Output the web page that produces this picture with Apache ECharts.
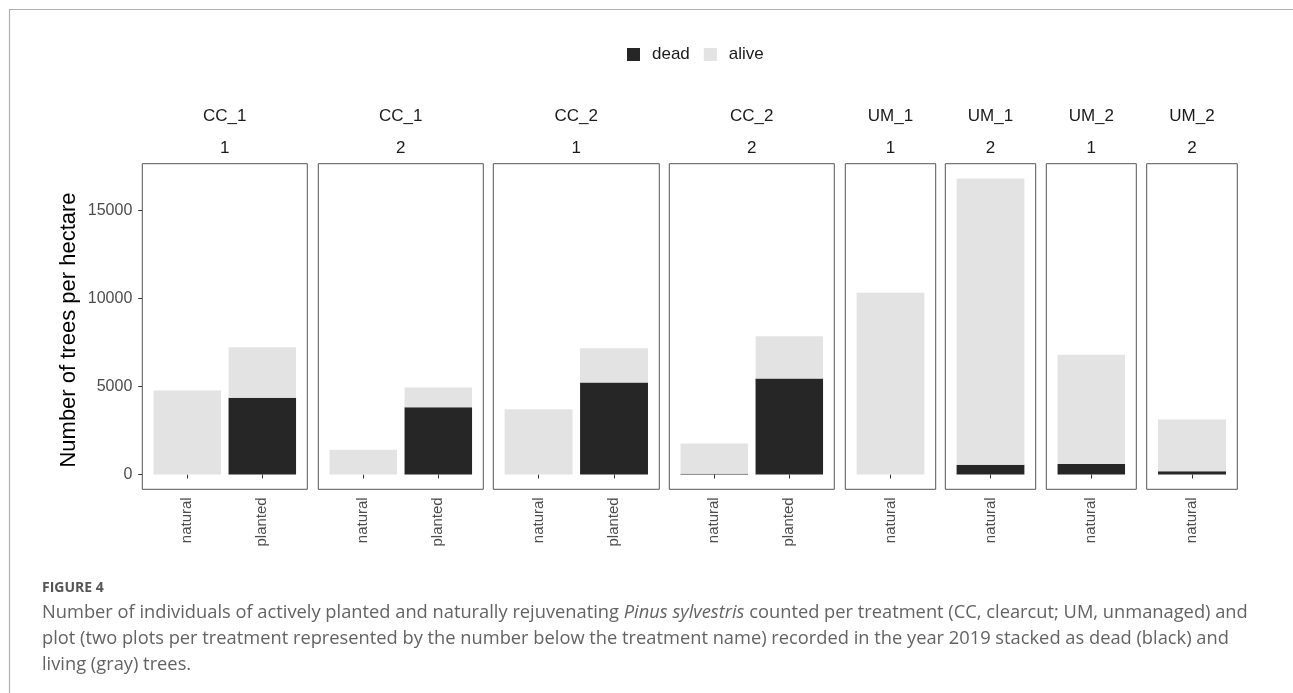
<!DOCTYPE html>
<html>
<head>
<meta charset="utf-8">
<script src="https://cdn.jsdelivr.net/npm/echarts@6/dist/echarts.min.js"></script>
<style>
  html, body { margin: 0; padding: 0; background: #ffffff; }
  #chart { width: 1293px; height: 693px; }
</style>
</head>
<body>
<div id="chart"></div>
<script>
// ---- data ----
const panelTreatments = ['CC_1', 'CC_1', 'CC_2', 'CC_2', 'UM_1', 'UM_1', 'UM_2', 'UM_2'];
const panelPlots = ['1', '2', '1', '2', '1', '2', '1', '2'];
const panelCategories = [
  ['natural', 'planted'],
  ['natural', 'planted'],
  ['natural', 'planted'],
  ['natural', 'planted'],
  ['natural'],
  ['natural'],
  ['natural'],
  ['natural']
];
const deadValues = [[0, 4350], [0, 3820], [0, 5220], [40, 5450], [0], [550], [600], [190]];
const aliveValues = [[4770, 2870], [1400, 1120], [3710, 1950], [1720, 2400], [10310], [16250], [6190], [2930]];
const yTickValues = [0, 5000, 10000, 15000];
const seriesNames = ['dead', 'alive'];
const yTitle = 'Number of trees per hectare';
const figureLabel = 'FIGURE 4';
const captionLines = [
  'Number of individuals of actively planted and naturally rejuvenating {i|Pinus sylvestris} counted per treatment (CC, clearcut; UM, unmanaged) and',
  'plot (two plots per treatment represented by the number below the treatment name) recorded in the year 2019 stacked as dead (black) and',
  'living (gray) trees.'
];

// ---- layout / style ----
const Y_MIN = -840, Y_MAX = 17640;
const PANEL_TOP = 163.7, PANEL_HEIGHT = 325.6;
const panelLefts = [142.3, 318.3, 493.3, 669.3, 845.3, 945.3, 1046.3, 1146.7];
const panelWidths = [165, 165, 166, 165, 90.4, 90.4, 90, 90.6];
const DEAD_COLOR = '#262626', ALIVE_COLOR = '#e3e3e3';
const FONT = '"Liberation Sans", Arial, sans-serif';
const CAP_FONT = '"Open Sans", "Noto Sans", sans-serif';
const CAP_SIZE = 18.3;

const grids = [], xAxes = [], yAxes = [], series = [], graphics = [];

graphics.push({
  type: 'rect', silent: true, z: 0,
  shape: { x: 9.5, y: 9.5, width: 1400, height: 800 },
  style: { fill: 'none', stroke: '#b0b0b0', lineWidth: 1.2 }
});

panelCategories.forEach((cats, i) => {
  const n = cats.length;
  const unit = panelWidths[i] / (n + 0.2);   // ggplot discrete expansion 0.6 each side
  const inset = 0.1 * unit;
  grids.push({
    left: panelLefts[i] + inset, top: PANEL_TOP, width: n * unit, height: PANEL_HEIGHT,
    show: false
  });
  graphics.push({
    type: 'rect', silent: true, z: 100,
    shape: { x: panelLefts[i], y: PANEL_TOP, width: panelWidths[i], height: PANEL_HEIGHT },
    style: { fill: 'none', stroke: '#555555', lineWidth: 1 }
  });
  xAxes.push({
    gridIndex: i, type: 'category', data: cats, boundaryGap: true,
    axisLine: { show: false }, splitLine: { show: false },
    axisTick: { show: true, alignWithLabel: true, length: 4, lineStyle: { color: '#333333' } },
    axisLabel: { rotate: 90, margin: 8, fontSize: 15, color: '#4d4d4d', fontFamily: FONT }
  });
  yAxes.push({
    gridIndex: i, type: 'value', min: Y_MIN, max: Y_MAX, offset: inset,
    splitLine: { show: false }, axisLine: { show: false },
    axisTick: { show: i === 0, customValues: yTickValues, length: 4, lineStyle: { color: '#333333' } },
    axisLabel: {
      show: i === 0, customValues: yTickValues, margin: 10, fontSize: 16, color: '#4d4d4d', fontFamily: FONT,
      formatter: v => String(v)
    }
  });
  series.push({
    name: seriesNames[0], type: 'bar', xAxisIndex: i, yAxisIndex: i, stack: 'p' + i,
    barWidth: '90%', itemStyle: { color: DEAD_COLOR },
    data: deadValues[i]
  });
  series.push({
    name: seriesNames[1], type: 'bar', xAxisIndex: i, yAxisIndex: i, stack: 'p' + i,
    barWidth: '90%', itemStyle: { color: ALIVE_COLOR },
    data: aliveValues[i]
  });
  const cx = panelLefts[i] + panelWidths[i] / 2;
  graphics.push({
    type: 'text', x: cx, y: 116, silent: true,
    style: { text: panelTreatments[i], fill: '#1a1a1a', font: '17px ' + FONT, align: 'center', verticalAlign: 'middle' }
  });
  graphics.push({
    type: 'text', x: cx, y: 148, silent: true,
    style: { text: panelPlots[i], fill: '#1a1a1a', font: '17px ' + FONT, align: 'center', verticalAlign: 'middle' }
  });
});

graphics.push({
  type: 'text', x: 68.5, y: 330, rotation: Math.PI / 2, silent: true,
  style: { text: yTitle, fill: '#000000', font: '22px ' + FONT, align: 'center', verticalAlign: 'middle' }
});
graphics.push({
  type: 'text', x: 42, y: 588, silent: true,
  style: { text: figureLabel, fill: '#555555', font: 'bold 14px ' + CAP_FONT, align: 'left', verticalAlign: 'middle' }
});
captionLines.forEach((line, k) => {
  graphics.push({
    type: 'text', x: 42, y: 613 + k * 26, silent: true,
    style: {
      text: line, fill: '#636363', font: CAP_SIZE + 'px ' + CAP_FONT, align: 'left', verticalAlign: 'middle',
      rich: { i: { fontStyle: 'italic', fontSize: CAP_SIZE, fontFamily: CAP_FONT, fill: '#636363' } }
    }
  });
});

const chart = echarts.init(document.getElementById('chart'), null, { renderer: 'canvas' });
chart.setOption({
  animation: false,
  backgroundColor: '#ffffff',
  textStyle: { fontFamily: FONT },
  legend: {
    data: seriesNames, left: 627, top: 46, padding: 0,
    itemWidth: 13, itemHeight: 13, itemGap: 14, icon: 'rect',
    textStyle: { fontSize: 17, color: '#1a1a1a', fontFamily: FONT, padding: [0, 0, 0, 7] }
  },
  grid: grids,
  xAxis: xAxes,
  yAxis: yAxes,
  series: series,
  graphic: graphics
});
</script>
</body>
</html>
